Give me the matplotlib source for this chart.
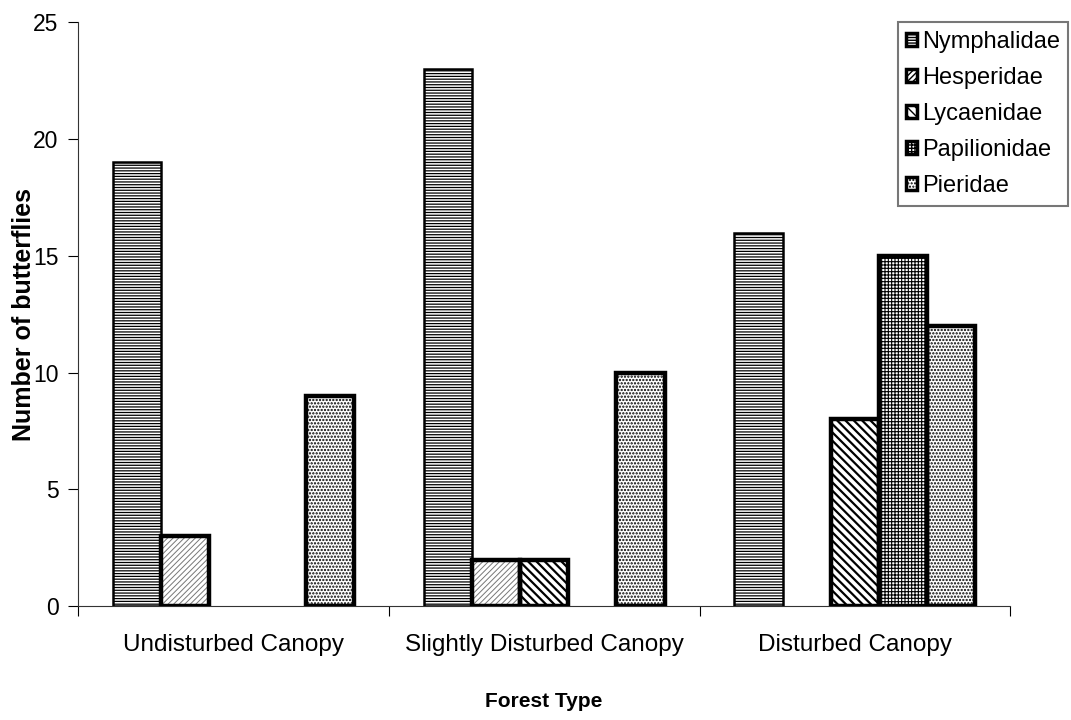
import numpy as np
import matplotlib.pyplot as plt
from matplotlib.patches import Patch

plt.rcParams['font.family'] = ['Liberation Sans', 'DejaVu Sans']

# datos
categorias = ['Undisturbed Canopy', 'Slightly Disturbed Canopy', 'Disturbed Canopy']
familias = ['Nymphalidae', 'Hesperidae', 'Lycaenidae', 'Papilionidae', 'Pieridae']
nymphalidae = [19, 23, 16]
hesperidae = [3, 2, 0]
lycaenidae = [0, 2, 8]
papilionidae = [0, 0, 15]
pieridae = [9, 10, 12]

series = [nymphalidae, hesperidae, lycaenidae, papilionidae, pieridae]
tramas = ['------', '//////', '\\\\\\\\', '+++++', '.....']
bordes = [1.8, 3.2, 3.2, 3.2, 3.2]
grosor_trama = [0.9, 0.7, 1.6, 0.8, 1.1]
color_trama = ['black', '#777777', 'black', 'black', 'black']

fig = plt.figure(figsize=(10.71, 7.2), dpi=100)
ax = fig.add_axes([0.0728, 0.158, 0.8705, 0.811])

x = np.arange(len(categorias))
ancho = 0.155
for i, vals in enumerate(series):
    pos = x + (i - 2) * ancho
    # relleno con trama
    b = ax.bar(pos, vals, ancho, color='white', edgecolor=color_trama[i],
               hatch=tramas[i], linewidth=0, zorder=2)
    for p in b:
        try:
            p.set_hatch_linewidth(grosor_trama[i])
        except AttributeError:
            pass
    # borde
    ax.bar(pos, vals, ancho, fill=False, edgecolor='black',
           linewidth=[bordes[i] if v > 0 else 0 for v in vals], zorder=3)

ax.set_xlim(-0.5, 2.5)
ax.set_ylim(0, 25)
ax.set_yticks([0, 5, 10, 15, 20, 25])
ax.tick_params(axis='y', labelsize=16.5, length=7, direction='out', pad=7)
ax.set_xticks([-0.5, 0.5, 1.5, 2.5])
ax.set_xticklabels([])
ax.set_xticks(x, minor=True)
ax.set_xticklabels(categorias, minor=True)
ax.tick_params(axis='x', which='major', length=7, direction='out')
ax.tick_params(axis='x', which='minor', length=0, labelsize=17.5, pad=20)
for s in ['top', 'right']:
    ax.spines[s].set_visible(False)
for s in ['left', 'bottom']:
    ax.spines[s].set_color('#333333')

ax.set_xlabel('Forest Type', fontsize=15, fontweight='bold', labelpad=26)
ax.set_ylabel('Number of butterflies', fontsize=18, fontweight='bold')
ax.yaxis.set_label_coords(-0.045, 0.5)

manijas = []
for i in range(len(familias)):
    manijas.append(Patch(facecolor='white', edgecolor='black', hatch=tramas[i],
                         linewidth=2.5, label=familias[i]))
leg = ax.legend(handles=manijas, loc='upper right', bbox_to_anchor=(1.062, 1.0),
                fontsize=17, handlelength=0.45, handleheight=0.45, handletextpad=0.2,
                labelspacing=0.6, frameon=True, fancybox=False, borderpad=0.35,
                borderaxespad=0)
leg.get_frame().set_edgecolor('#555555')
leg.get_frame().set_linewidth(1.5)

fig.savefig('out.png', dpi=100)
